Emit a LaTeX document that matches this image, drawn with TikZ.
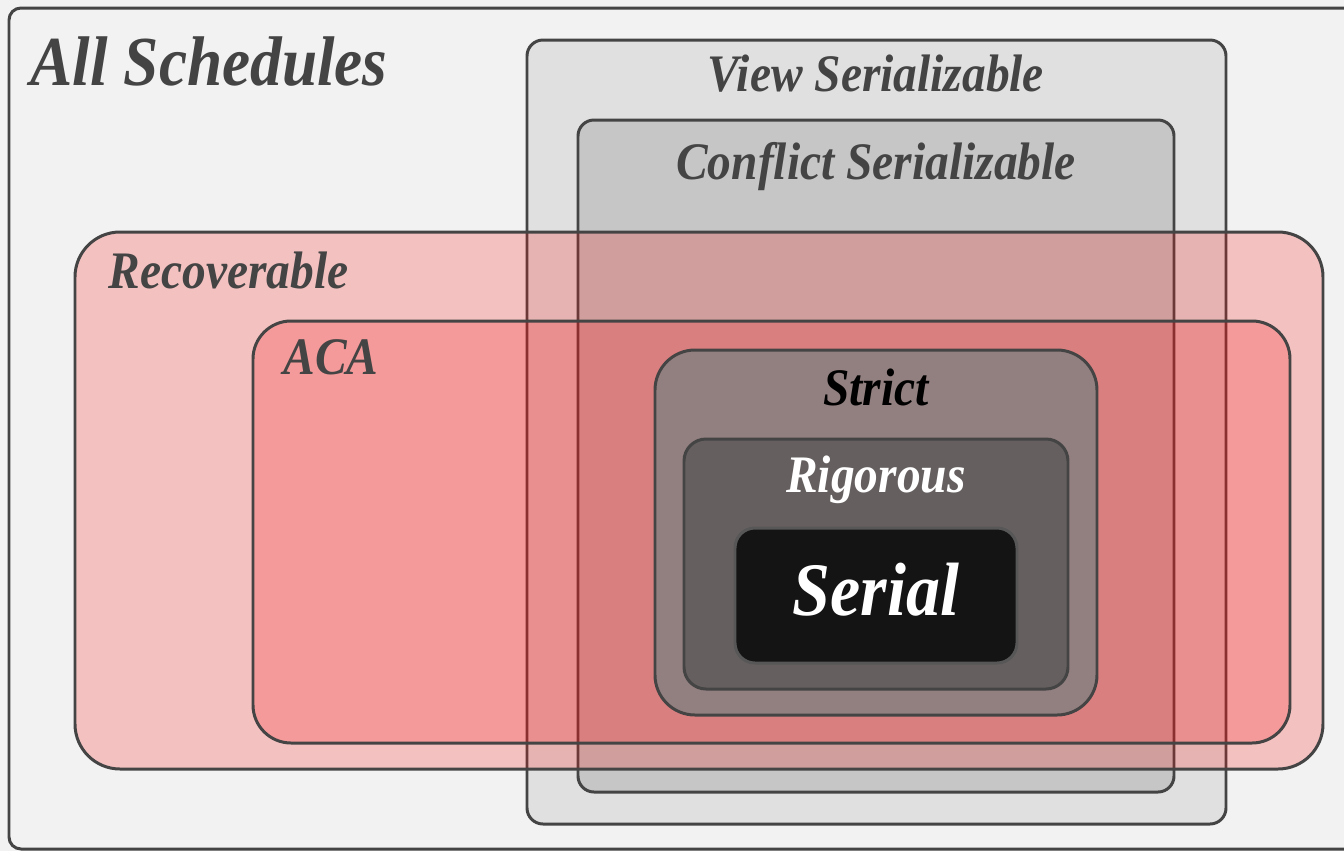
\documentclass[tikz,border=0pt]{standalone}
\usepackage{fontspec}
\setmainfont[FakeStretch=0.9]{Liberation Serif}
\usetikzlibrary{positioning}
\definecolor{bgpaper}{HTML}{F2F2F2}
\definecolor{edge}{HTML}{444444}
\definecolor{viewgray}{HTML}{E0E0E0}
\definecolor{conflictgray}{HTML}{C6C6C6}
\definecolor{setred}{HTML}{FC1313}
\definecolor{strictgray}{HTML}{927F7F}
\definecolor{rigorgray}{HTML}{65605F}
\definecolor{serialblack}{HTML}{141414}

\begin{document}
\begin{tikzpicture}[
    every node/.style={font=\bfseries\itshape},
    setbox/.style={rectangle, draw=edge, line width=0.85pt, inner sep=0pt, outer sep=0pt},
    grayset/.style={setbox, rounded corners=0.16cm},
    redset/.style={setbox, fill=setred, fill opacity=0.22},
    setlabel/.style={anchor=base, text=edge, inner sep=0pt, font=\fontsize{15}{18}\selectfont\bfseries\itshape},
    biglabel/.style={setlabel, font=\fontsize{20}{24}\selectfont\bfseries\itshape}
]

\clip (0,0) rectangle (13.44,-8.51);
\fill[bgpaper] (0,0) rectangle (13.44,-8.51);

% outer set and the serializability classes
\node[setbox, rounded corners=0.12cm, fill=bgpaper, minimum width=13.61cm, minimum height=8.41cm] (all) at (6.895,-4.285) {};
\node[grayset, fill=viewgray, minimum width=6.99cm, minimum height=7.84cm] (view) at (8.765,-4.32) {};
\node[grayset, fill=conflictgray, minimum width=5.96cm, minimum height=6.72cm] (conflict) at (8.76,-4.56) {};

% recoverability classes
\node[redset, rounded corners=0.45cm, minimum width=12.48cm, minimum height=5.37cm] (recov) at (6.99,-5.005) {};
\node[redset, rounded corners=0.38cm, minimum width=10.37cm, minimum height=4.22cm] (aca) at (7.715,-5.32) {};

% nested core
\node[setbox, fill=strictgray, rounded corners=0.4cm, minimum width=4.42cm, minimum height=3.65cm] (strict) at (8.76,-5.325) {};
\node[setbox, fill=rigorgray, rounded corners=0.22cm, minimum width=3.84cm, minimum height=2.5cm] (rigor) at (8.76,-5.64) {};
\node[setbox, draw=edge!90!white, fill=serialblack, rounded corners=0.2cm, minimum width=2.82cm, minimum height=1.35cm] (serial) at (8.76,-5.955) {};

% labels
\node[biglabel, anchor=base west] (alllbl) at (0.30,-0.85) {All Schedules};
\node[setlabel] (viewlbl) at (8.76,-0.91) {View Serializable};
\node[setlabel] (conflictlbl) at (8.76,-1.79) {Conflict Serializable};
\node[setlabel, anchor=base west] (recovlbl) at (1.08,-2.88) {Recoverable};
\node[setlabel, anchor=base west] (acalbl) at (2.83,-3.74) {ACA};
\node[setlabel, text=black] (strictlbl) at (8.76,-4.05) {Strict};
\node[setlabel, text=white] (rigorlbl) at (8.76,-4.92) {Rigorous};
\node[setlabel, text=white, font=\fontsize{21.5}{25}\selectfont\bfseries\itshape] (seriallbl) at (8.76,-6.15) {Serial};

\end{tikzpicture}
\end{document}
